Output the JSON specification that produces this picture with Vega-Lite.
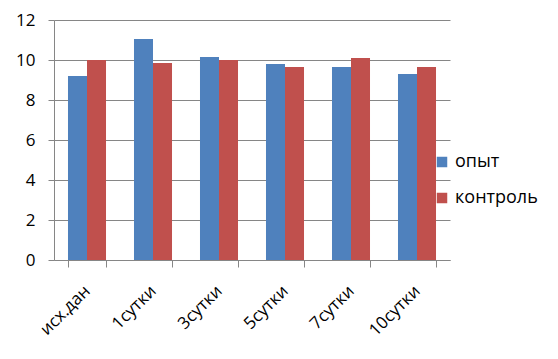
{
  "$schema": "https://vega.github.io/schema/vega-lite/v6.json",
  "width": 396,
  "height": 240,
  "autosize": {"type": "none"},
  "padding": {"left": 54, "top": 20, "right": 108, "bottom": 99},
  "background": "white",
  "config": {
    "view": {"stroke": null},
    "font": "Open Sans"
  },
  "data": {
    "values": [
      {"cat": "исх.дан", "series": "опыт", "value": 9.2},
      {"cat": "исх.дан", "series": "контроль", "value": 10.0},
      {"cat": "1сутки", "series": "опыт", "value": 11.05},
      {"cat": "1сутки", "series": "контроль", "value": 9.85},
      {"cat": "3сутки", "series": "опыт", "value": 10.15},
      {"cat": "3сутки", "series": "контроль", "value": 10.0},
      {"cat": "5сутки", "series": "опыт", "value": 9.8},
      {"cat": "5сутки", "series": "контроль", "value": 9.65},
      {"cat": "7сутки", "series": "опыт", "value": 9.65},
      {"cat": "7сутки", "series": "контроль", "value": 10.1},
      {"cat": "10сутки", "series": "опыт", "value": 9.3},
      {"cat": "10сутки", "series": "контроль", "value": 9.65}
    ]
  },
  "mark": {"type": "bar"},
  "encoding": {
    "x": {
      "field": "cat",
      "type": "nominal",
      "sort": ["исх.дан", "1сутки", "3сутки", "5сутки", "7сутки", "10сутки"],
      "scale": {"paddingInner": 0.424, "paddingOuter": 0.212},
      "axis": {
        "title": null,
        "labelAngle": -45,
        "labelAlign": "right",
        "labelBaseline": "middle",
        "labelFontSize": 17,
        "labelColor": "black",
        "labelPadding": 21,
        "labelDx": 5,
        "tickBand": "extent",
        "tickSize": 7,
        "tickColor": "#868686",
        "domainColor": "#868686",
        "grid": false
      }
    },
    "xOffset": {
      "field": "series",
      "type": "nominal",
      "sort": ["опыт", "контроль"],
      "scale": {"paddingInner": 0, "paddingOuter": 0}
    },
    "y": {
      "field": "value",
      "type": "quantitative",
      "scale": {"domain": [0, 12]},
      "axis": {
        "title": null,
        "values": [0, 2, 4, 6, 8, 10, 12],
        "labelFontSize": 17,
        "labelColor": "black",
        "labelPadding": 13,
        "tickSize": 6,
        "tickColor": "#868686",
        "domainColor": "#868686",
        "gridColor": "#868686",
        "gridOpacity": 1
      }
    },
    "color": {
      "field": "series",
      "type": "nominal",
      "sort": ["опыт", "контроль"],
      "scale": {"domain": ["опыт", "контроль"], "range": ["#4F81BD", "#C0504D"]},
      "legend": {
        "title": null,
        "orient": "none",
        "legendX": 379,
        "legendY": 133,
        "symbolType": "square",
        "symbolSize": 110,
        "symbolStrokeWidth": 0,
        "labelFontSize": 18,
        "labelColor": "black",
        "labelOffset": 4,
        "rowPadding": 18
      }
    }
  }
}
